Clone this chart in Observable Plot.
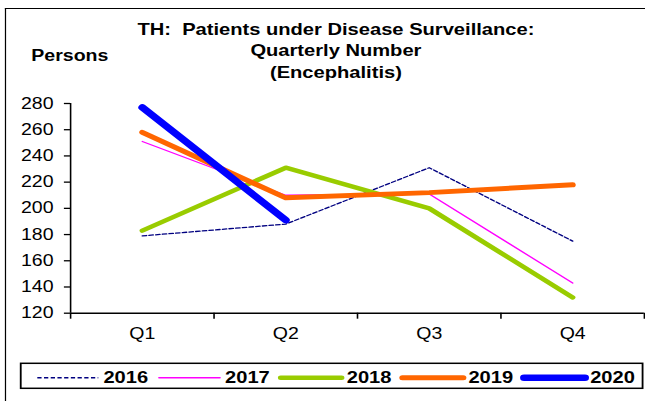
<!DOCTYPE html>
<html>
<head>
<meta charset="utf-8">
<script src="https://cdn.jsdelivr.net/npm/d3@7"></script>
<script src="https://cdn.jsdelivr.net/npm/@observablehq/plot@0.6"></script>
<style>
  html, body { margin: 0; padding: 0; background: #fff; overflow: hidden; }
  #wrap { position: relative; width: 529px; height: 401px; transform: scaleX(1.2193); transform-origin: 0 0;
          font-family: "Liberation Sans", Arial, Helvetica, sans-serif; color: #000; }
  #frame { position: absolute; left: 4px; top: 7.5px; width: 600px; height: 420px; border-left: 1.4px solid #000; border-top: 1.5px solid #000; }
  #title { position: absolute; left: 75.5px; width: 400px; top: 18.5px; text-align: center; font-weight: bold; font-size: 16.5px; line-height: 21.6px; white-space: nowrap; }
  #ylabel { position: absolute; left: 17.3px; width: 80px; top: 45.5px; text-align: center; font-weight: bold; font-size: 16px; line-height: 20px; }
  #chart { position: absolute; left: 0; top: 0; }
  #legend { position: absolute; left: 0; top: 355px; }
</style>
</head>
<body>
<div id="wrap">
  <div id="frame"></div>
  <div id="chart"></div>
  <div id="title">TH:&nbsp; Patients under Disease Surveillance:<br>Quarterly Number<br>(Encephalitis)</div>
  <div id="ylabel">Persons</div>
  <div id="legend"></div>
</div>
<script>
// ---- data ----
const quarters = ["Q1", "Q2", "Q3", "Q4"];
const years = ["2016", "2017", "2018", "2019", "2020"];
const v2016 = [179, 188, 231, 175];
const v2017 = [251, 210, 211, 143];
const v2018 = [183, 231, 200, 132];
const v2019 = [258, 208, 212, 218];
const v2020 = [277, 191];
const yTicks = [120, 140, 160, 180, 200, 220, 240, 260, 280];

// ---- styles ----
const seriesColors = ["#000080", "#FF00FF", "#99CC00", "#FF6600", "#0000FF"];
const seriesWidths = [1.3, 1.3, 4.5, 5, 6.5];
const seriesDash = ["3.5,2", null, null, null, null];

const seriesValues = [v2016, v2017, v2018, v2019, v2020];
const rows = seriesValues.flatMap((vals, s) => vals.map((v, i) => ({year: years[s], q: i, value: v})));
const bounds = d3.range(quarters.length + 1);
const centers = quarters.map((_, i) => i + 0.5);

const plot = Plot.plot({
  width: 529,
  height: 345,
  marginLeft: 57.4,
  marginRight: 1,
  marginTop: 103,
  marginBottom: 32.3,
  style: {fontFamily: "'Liberation Sans', Arial, Helvetica, sans-serif", fontSize: "16px", color: "#000", background: "transparent", overflow: "visible"},
  x: {type: "linear", domain: [0, quarters.length], axis: null, label: null},
  y: {domain: [yTicks[0], yTicks[yTicks.length - 1]], axis: null, label: null},
  marks: [
    Plot.ruleY([yTicks[0]], {x1: 0, x2: quarters.length, stroke: "#000", strokeWidth: 1.5}),
    Plot.ruleX([0], {y1: yTicks[0], y2: yTicks[yTicks.length - 1], stroke: "#000", strokeWidth: 1.3}),
    Plot.axisY(yTicks, {tickSize: 5, tickPadding: 9, strokeWidth: 1.3, fontSize: 16, label: null}),
    Plot.axisX(bounds, {tickSize: 6, strokeWidth: 1.3, tickFormat: () => "", label: null}),
    Plot.axisX(centers, {tickSize: 0, tickPadding: 14, fontSize: 16, label: null, tickFormat: d => quarters[Math.floor(d)]}),
    ...years.map((yr, s) => Plot.line(rows.filter(r => r.year === yr), {
      x: d => d.q + 0.5, y: "value",
      stroke: seriesColors[s], strokeWidth: seriesWidths[s], strokeDasharray: seriesDash[s],
      strokeLinecap: "round", strokeLinejoin: "round"
    }))
  ]
});
document.getElementById("chart").appendChild(plot);

// ---- legend ----
const lg = d3.select("#legend").append("svg").attr("width", 529).attr("height", 46)
  .style("font-family", "'Liberation Sans', Arial, Helvetica, sans-serif");
lg.append("rect").attr("x", 17).attr("y", 8.3).attr("width", 510).attr("height", 25)
  .attr("fill", "none").attr("stroke", "#000").attr("stroke-width", 1.5);
const item = lg.selectAll("g.item").data(years).join("g").attr("class", "item")
  .attr("transform", (d, i) => `translate(${30.6 + i * 99.8},0)`);
item.append("line").attr("x1", 0).attr("x2", 50).attr("y1", 22.7).attr("y2", 22.7)
  .attr("stroke", (d, i) => seriesColors[i])
  .attr("stroke-width", (d, i) => seriesWidths[i] < 2 ? 1.5 : seriesWidths[i])
  .attr("stroke-dasharray", (d, i) => seriesDash[i])
  .attr("stroke-linecap", (d, i) => seriesDash[i] ? "butt" : "round");
item.append("text").attr("x", 54.2).attr("y", 28.3).attr("font-size", 16.5).attr("font-weight", "bold")
  .attr("fill", "#000").text(d => d);
</script>
</body>
</html>
